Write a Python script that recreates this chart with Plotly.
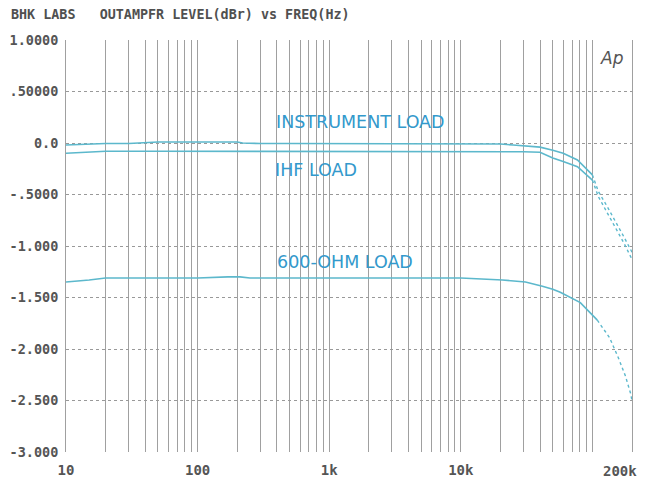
import math
import plotly.graph_objects as go

# ---- data ----
freq_instr = [10, 12, 15, 20, 30, 35, 50, 100, 150, 200, 220, 300, 500, 1000, 2000, 5000, 10000,
              20000, 25000, 40000, 50000, 60000, 77000, 100000]
lvl_instr = [-0.02, -0.015, -0.01, -0.005, -0.005, 0.0, 0.01, 0.01, 0.01, 0.01, 0.0, -0.005, -0.005,
             -0.005, -0.005, -0.005, -0.005, -0.01, -0.02, -0.04, -0.07, -0.10, -0.165, -0.31]
freq_instr_hi = [100000, 111000, 130000, 150000, 175000, 200000]
lvl_instr_hi = [-0.31, -0.47, -0.62, -0.76, -0.92, -1.06]

freq_ihf = [10, 12, 15, 18, 20, 50, 100, 1000, 10000, 20000, 30000, 40000, 50000, 60000, 77000, 100000]
lvl_ihf = [-0.10, -0.095, -0.09, -0.085, -0.08, -0.08, -0.08, -0.08, -0.08, -0.08, -0.085, -0.09,
           -0.145, -0.18, -0.23, -0.36]
freq_ihf_hi = [100000, 111000, 130000, 150000, 175000, 200000]
lvl_ihf_hi = [-0.36, -0.52, -0.68, -0.82, -0.98, -1.13]

freq_600 = [10, 13, 15, 20, 50, 100, 170, 210, 250, 1000, 10000, 20700, 31000, 41700, 50000, 57000,
            81000, 109000]
lvl_600 = [-1.35, -1.34, -1.33, -1.31, -1.31, -1.31, -1.30, -1.30, -1.31, -1.31, -1.31, -1.33,
           -1.35, -1.39, -1.42, -1.45, -1.55, -1.72]
freq_600_hi = [109000, 135000, 158000, 178000, 195000, 200000]
lvl_600_hi = [-1.72, -1.89, -2.09, -2.26, -2.43, -2.50]

x_label_vals = [10, 100, 1000, 10000]
x_label_text = ["10", "100", "1k", "10k"]
x_end_label = "200k"
y_tick_vals = [1.0, 0.5, 0.0, -0.5, -1.0, -1.5, -2.0, -2.5, -3.0]
y_tick_text = ["1.0000", ".50000", "0.0", "-.5000", "-1.000", "-1.500", "-2.000", "-2.500", "-3.000"]

series_labels = ["INSTRUMENT LOAD", "IHF LOAD", "600-OHM LOAD"]
label_freq = [1720, 800, 1320]
label_lvl = [0.20, -0.26, -1.155]

title_text = "BHK LABS   OUTAMPFR LEVEL(dBr) vs FREQ(Hz)"

# ---- figure ----
line_col = "#5cb8cc"
label_col = "#3399cc"
grid_col = "#a0a0a0"

fig = go.Figure()
for fx, fy in [(freq_instr, lvl_instr), (freq_ihf, lvl_ihf), (freq_600, lvl_600)]:
    fig.add_trace(go.Scatter(x=fx, y=fy, mode="lines",
                             line=dict(color=line_col, width=1.6), showlegend=False))
for fx, fy in [(freq_instr_hi, lvl_instr_hi), (freq_ihf_hi, lvl_ihf_hi), (freq_600_hi, lvl_600_hi)]:
    fig.add_trace(go.Scatter(x=fx, y=fy, mode="lines",
                             line=dict(color=line_col, width=1.4, dash="dot"), showlegend=False))

# all log grid positions
grid_vals = []
for d in [10, 100, 1000, 10000, 100000]:
    for m in range(1, 10):
        v = d * m
        if v <= 200000:
            grid_vals.append(v)
grid_text = [x_label_text[x_label_vals.index(v)] if v in x_label_vals else "" for v in grid_vals]

mono = "DejaVu Sans Mono"
tick_font = dict(family=mono, size=14, color="#555555", weight="bold")
fig.update_xaxes(type="log", range=[1, math.log10(200000)], tickmode="array",
                 tickvals=grid_vals, ticktext=grid_text,
                 showgrid=True, gridcolor=grid_col, gridwidth=1,
                 showline=False, zeroline=False, ticks="", automargin=False,
                 ticklabelstandoff=8, ticklabeloverflow="allow",
                 tickfont=tick_font)
fig.update_yaxes(range=[-3.0, 1.0], tickmode="array", tickvals=y_tick_vals, ticktext=y_tick_text,
                 showgrid=True, gridcolor="#999999", griddash="dot", gridwidth=1,
                 zeroline=False, showline=True, linecolor=grid_col, linewidth=1, mirror=True,
                 ticks="", ticklabelstandoff=4, automargin=False,
                 tickfont=dict(family=mono, size=13.5, color="#555555", weight="bold"))

# end-of-axis frequency label (kept inside the visible page like the reference)
fig.add_annotation(x=1.0, y=0, xref="x domain", yref="y domain", text=x_end_label, showarrow=False,
                   xanchor="right", yanchor="top", xshift=7, yshift=-9,
                   font=tick_font)

for t, lf, ly in zip(series_labels, label_freq, label_lvl):
    fig.add_annotation(x=math.log10(lf), y=ly, xref="x", yref="y", text=t, showarrow=False,
                       xanchor="center", yanchor="middle",
                       font=dict(family="DejaVu Sans", size=17.5, color=label_col))

W, H = 640, 475
ML, MR, MT, MB = 58, 16, 32, 31
ph = H - MT - MB
pw = W - ML - MR
fig.add_annotation(x=(1 - ML) / pw, y=1 + (MT - 7) / ph, xref="paper", yref="paper",
                   text=title_text, showarrow=False, xanchor="left", yanchor="middle",
                   font=dict(family=mono, size=13.4, color="#505050", weight="bold"))
fig.add_annotation(x=0.99, y=0.985, xref="x domain", yref="y domain", text="<i>Ap</i>", showarrow=False,
                   xanchor="right", yanchor="top",
                   font=dict(family="DejaVu Sans", size=17, color="#555555"))

fig.update_layout(width=W, height=H, margin=dict(l=ML, r=MR, t=MT, b=MB),
                  paper_bgcolor="white", plot_bgcolor="white")

fig.write_html("out.html")
